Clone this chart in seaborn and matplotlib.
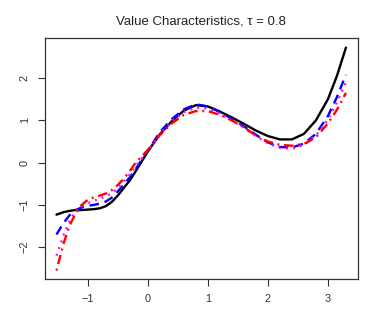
import matplotlib
matplotlib.use("Agg")
import matplotlib.pyplot as plt
import seaborn as sns
import pandas as pd

x = [-1.52, -1.4, -1.3, -1.2, -1.1, -1.0, -0.9, -0.8, -0.7, -0.6, -0.5, -0.4, -0.3,
     -0.2, -0.1, 0.0, 0.2, 0.4, 0.6, 0.8, 1.0, 1.2, 1.4, 1.6, 1.8, 2.0, 2.2, 2.4,
     2.6, 2.8, 3.0, 3.15, 3.3]
black = [-1.23, -1.17, -1.14, -1.12, -1.12, -1.11, -1.1, -1.08, -1.03, -0.93, -0.78,
         -0.6, -0.42, -0.2, 0.03, 0.26, 0.67, 0.98, 1.23, 1.36, 1.33, 1.21, 1.07,
         0.92, 0.76, 0.63, 0.55, 0.55, 0.68, 1.0, 1.5, 2.05, 2.72]
blue = [-1.7, -1.42, -1.24, -1.12, -1.06, -1.02, -1.0, -0.97, -0.92, -0.83, -0.68,
        -0.52, -0.35, -0.15, 0.07, 0.28, 0.72, 1.03, 1.26, 1.38, 1.33, 1.2, 1.04,
        0.86, 0.66, 0.48, 0.37, 0.36, 0.45, 0.68, 1.1, 1.55, 2.08]
magenta = [-2.2, -1.7, -1.38, -1.15, -1.04, -0.96, -0.9, -0.85, -0.8, -0.72, -0.6,
           -0.45, -0.28, -0.08, 0.1, 0.28, 0.68, 0.98, 1.2, 1.3, 1.28, 1.16, 1.0,
           0.83, 0.63, 0.46, 0.35, 0.33, 0.42, 0.64, 1.02, 1.42, 1.9]
red = [-2.55, -1.9, -1.48, -1.2, -1.0, -0.88, -0.82, -0.78, -0.73, -0.65, -0.53,
       -0.38, -0.2, 0.0, 0.15, 0.3, 0.65, 0.93, 1.13, 1.22, 1.22, 1.13, 1.0, 0.84,
       0.64, 0.5, 0.42, 0.4, 0.44, 0.6, 0.93, 1.25, 1.65]

xticks = [-1, 0, 1, 2, 3]
yticks = [-2, -1, 0, 1, 2]

sns.set_theme(style="white")
plt.rcParams["font.family"] = ["Liberation Sans", "DejaVu Sans"]

fig = plt.figure(figsize=(3.82, 3.27), dpi=100)
ax = fig.add_axes([0.118, 0.147, 0.819, 0.737])

df = pd.DataFrame({"x": x, "black": black, "blue": blue, "magenta": magenta, "red": red})

sns.lineplot(data=df, x="x", y="black", ax=ax, color="black", lw=1.7, sort=False)
sns.lineplot(data=df, x="x", y="blue", ax=ax, color="blue", lw=1.7, sort=False,
             linestyle=(0, (4, 2.5)))
sns.lineplot(data=df, x="x", y="magenta", ax=ax, color="magenta", lw=1.7, sort=False,
             linestyle=(0, (0.8, 2.2)))
sns.lineplot(data=df, x="x", y="red", ax=ax, color="red", lw=1.7, sort=False,
             linestyle=(0, (0.8, 2, 4, 2)))

ax.set_xlim(-1.71, 3.5)
ax.set_ylim(-2.75, 2.95)
ax.set_xticks(xticks)
ax.set_yticks(yticks)
ax.set_xticklabels(["\u22121", "0", "1", "2", "3"])
ax.set_yticklabels(["\u22122", "\u22121", "0", "1", "2"], rotation=90, va="center")
ax.set_xlabel("")
ax.set_ylabel("")
ax.tick_params(axis="both", direction="out", length=5, width=0.8, colors="#333333",
               labelsize=7.8, pad=6, bottom=True, left=True)
for s in ax.spines.values():
    s.set_color("#333333")
    s.set_linewidth(0.9)

fig.text(0.527, 0.935, "Value Characteristics, \u03c4 = 0.8", ha="center", va="center",
         fontsize=9.5, color="#222222")

fig.savefig("out.png", dpi=100)
